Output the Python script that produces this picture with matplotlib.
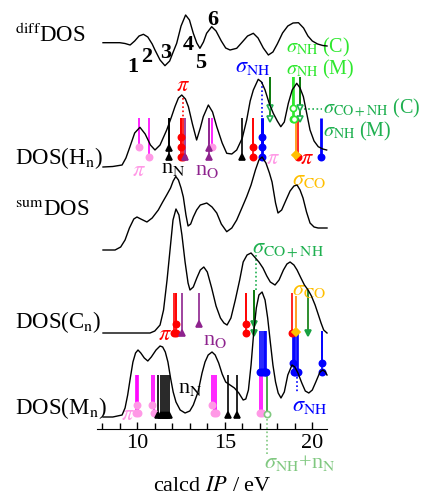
import matplotlib.pyplot as plt

plt.rcParams['font.family'] = 'Liberation Serif'
plt.rcParams['mathtext.fontset'] = 'stix'

# ---- DOS curves: energy (eV) and vertical position (row, top = 0) ----
diff_x = [8.04, 8.5, 9.0, 9.3, 9.59, 9.85, 10.1, 10.35, 10.6, 10.85, 11.01, 11.3, 11.58, 11.85,
          12.05, 12.25, 12.5, 12.76, 12.98, 13.2, 13.4, 13.58, 13.78, 13.96, 14.25, 14.5, 14.8,
          15.05, 15.3, 15.68, 16.0, 16.3, 16.63, 16.9, 17.2, 17.49, 17.75, 18.0, 18.3, 18.6, 18.9,
          19.21, 19.5, 19.75, 20.0, 20.3, 20.6, 20.84]
diff_y = [42.7, 42.7, 42.7, 43.5, 45, 41, 36, 34.3, 37, 44, 50, 60, 65.7, 61,
          52, 43.3, 26, 15, 20, 33.3, 43, 48.3, 42, 33.3, 26.7, 31, 41,
          48, 50, 48.3, 42, 36, 33.3, 38, 48, 55, 52, 44, 33, 26, 23,
          22.7, 28, 36, 41, 44, 45.5, 46]

hn_x = [8.04, 8.6, 9.13, 9.35, 9.58, 9.85, 10.15, 10.45, 10.75, 11.01, 11.3, 11.68, 11.95, 12.15,
        12.35, 12.54, 12.75, 12.92, 13.15, 13.39, 13.6, 13.77, 14.06, 14.3, 14.54, 14.85, 15.11,
        15.4, 15.68, 16.0, 16.25, 16.45, 16.63, 16.91, 17.1, 17.3, 17.55, 17.77, 18.0, 18.2, 18.4,
        18.63, 18.85, 19.11, 19.3, 19.49, 19.7, 19.87, 20.1, 20.34, 20.6, 20.82]
hn_y = [167, 166.5, 165, 158, 146.7, 133, 127.3, 134, 145, 150, 145, 130, 117, 106.7,
        98, 95, 99, 106.7, 124, 140, 128, 116.7, 105, 112, 126.7, 143, 153.3,
        154, 150, 138, 120, 101, 90, 79.3, 82, 90, 104, 113.3, 121, 126.7, 122,
        103.3, 90, 83.3, 88, 96.7, 115, 130, 141, 146.7, 149, 150]

sum_x = [8.04, 8.73, 9.05, 9.3, 9.55, 9.8, 9.98, 10.2, 10.55, 10.85, 11.2, 11.45, 11.68, 11.9,
         12.05, 12.2, 12.35, 12.5, 12.63, 12.78, 12.9, 13.05, 13.2, 13.39, 13.6, 13.97, 14.27,
         14.54, 14.8, 15.11, 15.4, 15.68, 16.0, 16.25, 16.5, 16.75, 16.95, 17.13, 17.35, 17.55,
         17.7, 17.9, 18.04, 18.25, 18.5, 18.73, 18.95, 19.13, 19.3, 19.47, 19.67, 19.87, 20.1,
         20.33, 20.84]
sum_y = [250, 250, 247, 240, 228, 219, 217, 219, 222, 218, 210, 202, 195, 188,
         181, 176.5, 180, 188, 197, 215, 226, 224, 217, 210, 205, 203, 207,
         213, 224, 231.7, 228, 220, 207, 196.7, 185, 170, 160, 157, 163, 173,
         182, 203, 213, 210, 200, 191, 186, 185, 190, 198, 212, 223, 227,
         228, 228]

cn_x = [8.04, 9.0, 10.0, 10.73, 11.0, 11.3, 11.5, 11.7, 11.87, 12.04, 12.21, 12.38, 12.55, 12.73,
        12.9, 13.01, 13.2, 13.4, 13.6, 13.8, 14.0, 14.25, 14.5, 14.75, 14.95, 15.13, 15.35, 15.6,
        15.85, 16.05, 16.27, 16.5, 16.7, 16.95, 17.18, 17.4, 17.6, 17.87, 18.1, 18.35, 18.55,
        18.73, 18.95, 19.13, 19.35, 19.55, 19.76, 19.95, 20.16, 20.35, 20.5, 20.65, 20.84]
cn_y = [333, 333, 333, 333, 331, 325, 310, 280, 250, 220, 209, 215, 235, 262,
        283, 290, 287, 278, 270, 267, 272, 288, 306, 318, 323, 325, 318, 300,
        280, 262, 255, 253, 257, 262, 268, 276, 282, 285, 280, 270, 264,
        262, 265, 270, 278, 285, 290, 296, 305, 315, 323, 330, 333]

mn_x = [8.04, 8.6, 9.13, 9.3, 9.45, 9.6, 9.75, 9.9, 10.04, 10.2, 10.4, 10.6, 10.8, 11.07,
        11.3, 11.45, 11.6, 11.75, 11.9, 12.05, 12.21, 12.45, 12.73, 13.0, 13.2, 13.47, 13.7,
        13.87, 14.05, 14.27, 14.45, 14.65, 14.85, 15.05, 15.3, 15.55, 15.8, 16.05, 16.2, 16.35,
        16.5, 16.65, 16.8, 16.95, 17.13, 17.3, 17.45, 17.6, 17.75, 17.9, 18.05, 18.21, 18.4,
        18.6, 18.84, 19.0, 19.18, 19.4, 19.6, 19.8, 20.0, 20.2, 20.44, 20.6, 20.75, 20.84]
mn_y = [417, 417, 415, 408, 395, 378, 362, 353, 350, 353, 358, 361, 357, 350,
        346, 347, 352, 362, 378, 392, 402, 410, 413, 411, 405, 392, 373,
        362, 355, 352, 355, 363, 374, 382, 385, 388, 393, 400, 399, 390,
        365, 333, 308, 295, 292, 300, 318, 342, 365, 382, 393, 398, 392,
        375, 365, 367, 373, 383, 391, 393, 390, 382, 372, 370, 372, 375]

# ---- sticks: energy (eV) and stacking level of the end marker ----
# DOS(Hn)
hn_pim_x = [10.11, 10.69, 14.25]
hn_pim_lv = [1, 0, 1]
hn_pic_x = [12.48, 12.48, 12.48, 12.59, 16.63, 16.63, 19.16]
hn_pic_lv = [2, 1, 0, 0, 1, 0, 0]
hn_nN_x = [11.81, 11.81, 16.0]
hn_nN_lv = [1, 0, 0]
hn_nO_x = [12.73, 14.11, 14.11]
hn_nO_lv = [0, 1, 0]
hn_sNH_x = [17.11, 17.11, 17.11, 20.48]
hn_sNH_lv = [2, 1, 0, 0]
hn_sCO_x = [19.07]
hn_sCO_lv = [0]
hn_cnh_x = [17.58, 17.58, 19.30, 19.30]
hn_cnh_lv = [1, 0, 1, 0]
hn_gnh_x = [18.88, 18.88, 18.97]
hn_gnh_lv = [1, 0, 0]

# DOS(Cn)
cn_pi_x = [12.11, 12.21, 12.21, 16.21, 16.21, 18.82]
cn_pi_lv = [0, 1, 0, 1, 0, 0]
cn_nO_x = [12.57, 13.53]
cn_nO_lv = [0, 1]
cn_cnh_x = [16.69, 16.69, 19.77]
cn_cnh_lv = [1, 0, 0]
cn_sCO_x = [19.05]
cn_sCO_lv = [0]

# DOS(Mn)
mn_pi_x = [9.9, 9.98, 10.06, 10.85, 10.93, 14.29, 14.38, 14.48, 17.01, 17.11]
mn_pi_lv = [0, 1, 0, 1, 0, 1, 0, 0, 0, 0]
mn_nN_x = [11.2, 11.34, 11.45, 11.58, 11.71, 11.83, 15.2, 15.71]
mn_nN_lv = [0, 0, 0, 0, 0, 0, 0, 0]
mn_nhn_x = [17.39]
mn_nhn_lv = [0]
mn_sNH_x = [17.03, 17.13, 17.22, 17.3, 17.38, 18.91, 18.97, 19.03, 19.1, 19.16, 20.54, 20.54]
mn_sNH_lv = [0, 0, 0, 0, 0, 1, 0, 0, 0, 0, 1, 0]

MAGENTA = '#ff00ff'
PINK = '#ff99e6'
RED = '#ff0000'
PURPLE = '#8e238e'
BLUE = '#0000ff'
ORANGE = '#ff8c00'
YELLOW = '#ffbf00'
BGREEN = '#2ee82e'
MGREEN = '#1fb050'
DGREEN = '#0a7a0a'
LGREEN = '#80c880'

fig = plt.figure(figsize=(4.27, 5.01), dpi=100)
ax = fig.add_axes([97 / 427, (501 - 428.5) / 501, 230 / 427, 428.5 / 501])
ax.set_xlim(7.697, 20.84)
ax.set_ylim(428.5, 0)


def sticks(xs, lvs, top, base, step, color, marker, mcolor=None, open_=False, ms=4.5, lw=1.2):
    mcolor = mcolor or color
    for x, lv in zip(xs, lvs):
        y = base - lv * step
        ax.plot([x, x], [top, y], color=color, lw=lw, zorder=2, solid_capstyle='butt')
        ax.plot(x, y, marker=marker, ms=ms, color=mcolor, mec=mcolor,
                mfc='white' if open_ else mcolor, mew=1.2, zorder=3, clip_on=False)


# curves
for cx, cy in [(diff_x, diff_y), (hn_x, hn_y), (sum_x, sum_y), (cn_x, cn_y), (mn_x, mn_y)]:
    ax.plot(cx, cy, color='black', lw=1.0, zorder=4, clip_on=False)

# DOS(Hn) sticks
sticks(hn_pim_x, hn_pim_lv, 118, 156.5, 10, MAGENTA, 'o', PINK)
sticks(hn_pic_x, hn_pic_lv, 118, 156.5, 10, RED, 'o')
sticks(hn_nN_x, hn_nN_lv, 118, 157, 9, 'black', '^')
sticks(hn_nO_x, hn_nO_lv, 118, 157, 9, PURPLE, '^')
sticks(hn_sNH_x, hn_sNH_lv, 118, 156.5, 10, BLUE, 'o', lw=2)
sticks(hn_sCO_x, hn_sCO_lv, 118, 155, 10, ORANGE, 'D', YELLOW, ms=4)
sticks(hn_cnh_x, hn_cnh_lv, 77, 118.5, 10.5, DGREEN, 'v', MGREEN, open_=True)
sticks(hn_gnh_x, hn_gnh_lv, 77, 118.5, 10.5, BGREEN, 'o', BGREEN, open_=True)
ax.plot([12.59, 12.59], [98, 118], color=RED, lw=1.2, ls=(0, (1, 1.5)))
ax.plot([17.11, 17.11], [82, 118], color=BLUE, lw=1.2, ls=(0, (1, 1.5)))
ax.plot([19.55, 20.55], [109, 109], color=MGREEN, lw=1.2, ls=(0, (1, 1.5)), clip_on=False)

# DOS(Cn) sticks
sticks(cn_pi_x, cn_pi_lv, 293, 332.7, 8.5, RED, 'o')
sticks(cn_nO_x, cn_nO_lv, 293, 332.7, 8.5, PURPLE, '^')
sticks(cn_cnh_x, cn_cnh_lv, 290, 332.7, 8.5, DGREEN, 'v', '#18a040')
sticks(cn_sCO_x, cn_sCO_lv, 296, 331.5, 8.5, ORANGE, 'D', YELLOW, ms=4)
ax.plot([16.77, 16.77], [255, 290], color=MGREEN, lw=1.2, ls=(0, (1, 1.5)))

# DOS(Mn) sticks
sticks(mn_pi_x, mn_pi_lv, 375, 413, 8.5, MAGENTA, 'o', PINK)
sticks(mn_nN_x, mn_nN_lv, 375, 415, 8.5, 'black', '^')
sticks(mn_nhn_x, mn_nhn_lv, 375, 414, 8.5, '#2a9a2a', 'o', LGREEN, open_=True)
sticks(mn_sNH_x, mn_sNH_lv, 331, 372, 9, BLUE, 'o', lw=1.2)
ax.plot([19.12, 19.12], [377, 392], color=BLUE, lw=1.2, ls=(0, (1, 1.5)))
ax.plot([17.39, 17.39], [419, 455], color=LGREEN, lw=1.2, ls=(0, (1, 1.5)), clip_on=False)

# peak numbers
for lbl, x, y in [('1', 9.76, 67), ('2', 10.55, 57), ('3', 11.64, 53),
                  ('4', 12.9, 45), ('5', 13.64, 63), ('6', 14.33, 20)]:
    ax.text(x, y, lbl, fontsize=16, fontweight='bold', ha='center', va='center')

fs = 16
fr = 14.5
# annotations DOS(Hn)
ax.text(10.11, 172, r'$\pi$', color=PINK, fontsize=fs, ha='center', va='center')
ax.text(12.04, 168, r'n$_{\rm N}$', color='black', fontsize=fs, ha='center', va='center')
ax.text(13.98, 170, r'n$_{\rm O}$', color=PURPLE, fontsize=fs, ha='center', va='center')
ax.text(17.75, 160, r'$\pi$', color=PINK, fontsize=fs, ha='center', va='center')
ax.text(19.70, 159, r'$\pi$', color=RED, fontsize=fs, ha='center', va='center')
ax.text(19.81, 180, r'$\sigma_{\rm CO}$', color=YELLOW, fontsize=fs, ha='center', va='center')
ax.text(12.59, 86, r'$\pi$', color=RED, fontsize=fs, ha='center', va='center')
ax.text(16.58, 67, r'$\sigma_{\rm NH}$', color=BLUE, fontsize=fs, ha='center', va='center')
ax.text(18.5, 47, r'$\sigma_{\rm NH}$ (C)', color=BGREEN, fontsize=fr, ha='left', va='center')
ax.text(18.5, 69, r'$\sigma_{\rm NH}$ (M)', color=BGREEN, fontsize=fr, ha='left', va='center')
ax.text(20.6, 108, r'$\sigma_{\rm CO+NH}$ (C)', color=MGREEN, fontsize=fr, ha='left', va='center')
ax.text(20.6, 131, r'$\sigma_{\rm NH}$ (M)', color=MGREEN, fontsize=fr, ha='left', va='center')

# annotations DOS(Cn)
ax.text(11.58, 335, r'$\pi$', color=RED, fontsize=fs, ha='center', va='center')
ax.text(14.44, 340, r'n$_{\rm O}$', color=PURPLE, fontsize=fs, ha='center', va='center')
ax.text(16.55, 250, r'$\sigma_{\rm CO+NH}$', color=MGREEN, fontsize=fs, ha='left', va='center')
ax.text(18.85, 290, r'$\sigma_{\rm CO}$', color=YELLOW, fontsize=fs, ha='left', va='center')

# annotations DOS(Mn)
ax.text(9.47, 415, r'$\pi$', color=PINK, fontsize=fs, ha='center', va='center')
ax.text(13.01, 389, r'n$_{\rm N}$', color='black', fontsize=fs, ha='center', va='center')
ax.text(19.87, 407, r'$\sigma_{\rm NH}$', color=BLUE, fontsize=fs, ha='center', va='center')
ax.text(19.3, 463, r'$\sigma_{\rm NH}$+n$_{\rm N}$', color=LGREEN, fontsize=fs,
        ha='center', va='center', clip_on=False)

# panel names
for lbl, y in [(r'$^{\rm diff}$DOS', 35), (r'DOS(H$_{\rm n}$)', 158), (r'$^{\rm sum}$DOS', 210),
               (r'DOS(C$_{\rm n}$)', 322), (r'DOS(M$_{\rm n}$)', 408)]:
    fig.text(15 / 427, 1 - y / 501, lbl, fontsize=16.5, ha='left', va='center')

# axis
for s in ['left', 'right', 'top']:
    ax.spines[s].set_visible(False)
ax.set_yticks([])
ax.set_xticks([10, 15, 20])
ax.set_xticks(range(8, 21), minor=True)
ax.tick_params(axis='x', which='both', direction='in', length=5, width=1, labelsize=16, pad=4)
ax.tick_params(axis='x', which='minor', length=4)
ax.set_xlabel(r'calcd $IP$ / eV', fontsize=16, labelpad=17)
ax.patch.set_visible(False)

fig.savefig('out.png', dpi=100)
